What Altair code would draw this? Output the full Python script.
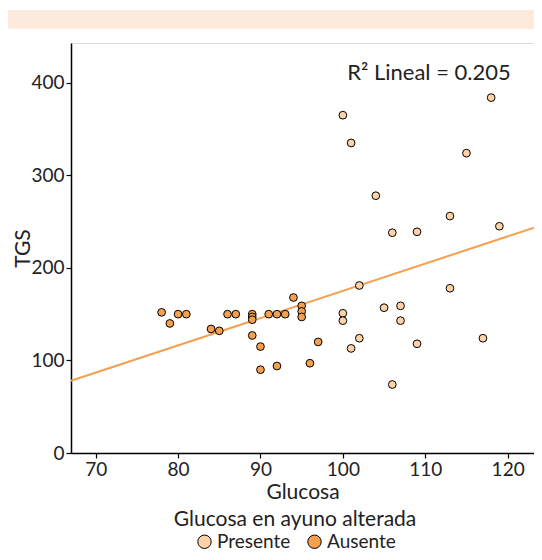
import altair as alt
import pandas as pd

# Data
glucosa_presente = [100, 101, 118, 115, 104, 106, 109, 113, 119, 102, 113, 100, 100,
                    105, 107, 107, 102, 101, 109, 117, 106]
tgs_presente = [365, 335, 384, 324, 278, 238, 239, 256, 245, 181, 178, 151, 143,
                157, 159, 143, 124, 113, 118, 124, 74]

glucosa_ausente = [78, 79, 80, 81, 84, 85, 86, 87, 89, 89, 89, 89, 90, 90, 91, 92,
                   93, 92, 94, 95, 95, 95, 96, 97]
tgs_ausente = [152, 140, 150, 150, 134, 132, 150, 150, 150, 147, 144, 127, 115, 90,
               150, 150, 150, 94, 168, 159, 153, 147, 97, 120]

groups = ["Presente", "Ausente"]
group_colors = ["#FDD2A6", "#F5A04E"]

# Fitted line (linear), read at the two plot edges
line_x = [67.0, 123.2]
line_y = [78.0, 243.5]

x_ticks = [70, 80, 90, 100, 110, 120]
y_ticks = [0, 100, 200, 300, 400]

r2_label = "R\u00b2 Lineal = 0.205"

FONT = "Lato"

pts = pd.DataFrame({
    "Glucosa": glucosa_presente + glucosa_ausente,
    "TGS": tgs_presente + tgs_ausente,
    "grupo": [groups[0]] * len(glucosa_presente) + [groups[1]] * len(glucosa_ausente),
})
line_df = pd.DataFrame({"Glucosa": line_x, "TGS": line_y})

xscale = alt.Scale(domain=[67.0, 123.2], nice=False, zero=False)
yscale = alt.Scale(domain=[0, 443], nice=False)

xaxis = alt.Axis(values=x_ticks, title="Glucosa", grid=False, tickColor="black",
                 domainColor="black", domainWidth=1.5, tickSize=5, tickWidth=1.2,
                 labelFontSize=19, titleFontSize=21, labelPadding=2, titlePadding=2,
                 labelColor="#222", titleColor="#222", titleFontWeight="normal")
yaxis = alt.Axis(values=y_ticks, title="TGS", grid=False, tickColor="black",
                 domainColor="black", domainWidth=1.5, tickSize=5, tickWidth=1.2,
                 labelFontSize=19, titleFontSize=21, labelPadding=2,
                 titleX=-48, titleBaseline="middle",
                 labelColor="#222", titleColor="#222", titleFontWeight="normal")

banner = alt.Chart(pd.DataFrame({"a": [0]})).mark_rect(color="#FCEBDC").encode(
    x=alt.value(-63), x2=alt.value(463), y=alt.value(-33), y2=alt.value(-14)
)

line = alt.Chart(line_df).mark_line(color="#F5A04E", strokeWidth=2).encode(
    x=alt.X("Glucosa:Q", scale=xscale, axis=xaxis),
    y=alt.Y("TGS:Q", scale=yscale, axis=yaxis),
)

points = alt.Chart(pts).mark_circle(size=60, opacity=1, stroke="black", strokeWidth=1).encode(
    x=alt.X("Glucosa:Q", scale=xscale, axis=xaxis),
    y=alt.Y("TGS:Q", scale=yscale, axis=yaxis),
    color=alt.Color("grupo:N", scale=alt.Scale(domain=groups, range=group_colors),
                    sort=groups,
                    legend=alt.Legend(title="Glucosa en ayuno alterada", orient="none",
                                      legendX=103, legendY=466, direction="horizontal",
                                      titleAnchor="middle", titleFontSize=21,
                                      titleFontWeight="normal", labelFontSize=19,
                                      titleLimit=600, labelLimit=300,
                                      titleColor="#222", labelColor="#222",
                                      symbolType="circle", symbolSize=180,
                                      symbolStrokeColor="black", symbolStrokeWidth=1,
                                      columnPadding=14, labelOffset=3, titlePadding=2)),
)

text = alt.Chart(pd.DataFrame({"t": [r2_label]})).mark_text(
    fontSize=22, font=FONT, color="#222", align="center", baseline="middle"
).encode(text="t:N", x=alt.value(358), y=alt.value(30))

chart = alt.layer(banner, line, points, text).properties(
    width=463, height=410,
    padding={"left": 63, "top": 35, "right": 0, "bottom": 99},
    autosize="none",
).configure_view(stroke="black", strokeWidth=1.5).configure(
    font=FONT
).configure_axis(labelFont=FONT, titleFont=FONT).configure_legend(
    labelFont=FONT, titleFont=FONT
)

chart.save("out.html", embed_options={"renderer": "svg", "actions": False})
